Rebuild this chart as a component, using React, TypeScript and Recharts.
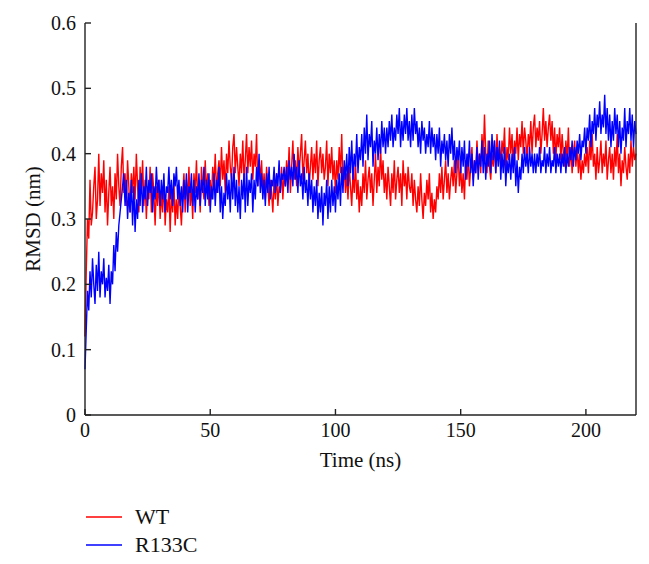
import React from 'react';
import { LineChart, Line, XAxis, YAxis } from 'recharts';

// RMSD (nm), one reading every 0.5 ns
const STEP_NS = 0.5;

const wt = [
  0.12, 0.22, 0.30, 0.27, 0.36, 0.29, 0.31, 0.35, 0.38, 0.30, 0.33, 0.40, 0.32, 0.37, 0.34, 0.39, 0.31, 0.36, 0.29, 0.34,
  0.38, 0.32, 0.35, 0.30, 0.37, 0.33, 0.40, 0.35, 0.32, 0.38, 0.41, 0.34, 0.37, 0.32, 0.39, 0.35, 0.31, 0.37, 0.34, 0.38,
  0.33, 0.40, 0.35, 0.31, 0.38, 0.34, 0.39, 0.32, 0.36, 0.30, 0.35, 0.33, 0.38, 0.31, 0.37, 0.34, 0.29, 0.35, 0.32, 0.36,
  0.30, 0.34, 0.31, 0.36, 0.29, 0.33, 0.31, 0.35, 0.28, 0.34, 0.31, 0.36, 0.29, 0.33, 0.30, 0.35, 0.32, 0.29, 0.34, 0.37,
  0.31, 0.36, 0.33, 0.38, 0.32, 0.35, 0.30, 0.37, 0.34, 0.39, 0.33, 0.36, 0.31, 0.38, 0.35, 0.33, 0.39, 0.34, 0.37, 0.32,
  0.36, 0.33, 0.38, 0.35, 0.40, 0.34, 0.37, 0.39, 0.35, 0.41, 0.36, 0.39, 0.34, 0.40, 0.37, 0.42, 0.38, 0.36, 0.41, 0.43,
  0.37, 0.41, 0.38, 0.35, 0.40, 0.37, 0.42, 0.36, 0.39, 0.43, 0.37, 0.41, 0.38, 0.42, 0.36, 0.40, 0.38, 0.43, 0.35, 0.39,
  0.36, 0.39, 0.34, 0.37, 0.33, 0.38, 0.35, 0.32, 0.36, 0.34, 0.31, 0.36, 0.33, 0.37, 0.32, 0.35, 0.34, 0.38, 0.33, 0.37,
  0.35, 0.39, 0.36, 0.41, 0.34, 0.38, 0.42, 0.36, 0.39, 0.35, 0.41, 0.37, 0.40, 0.43, 0.36, 0.39, 0.42, 0.37, 0.40, 0.35,
  0.38, 0.41, 0.36, 0.40, 0.37, 0.42, 0.35, 0.39, 0.41, 0.37, 0.40, 0.36, 0.38, 0.42, 0.35, 0.40, 0.37, 0.41, 0.36, 0.39,
  0.34, 0.39, 0.36, 0.41, 0.37, 0.43, 0.35, 0.38, 0.34, 0.37, 0.33, 0.38, 0.35, 0.32, 0.37, 0.34, 0.39, 0.33, 0.36, 0.31,
  0.35, 0.32, 0.37, 0.34, 0.39, 0.33, 0.36, 0.38, 0.34, 0.37, 0.32, 0.36, 0.40, 0.34, 0.38, 0.35, 0.41, 0.36, 0.39, 0.34,
  0.37, 0.33, 0.38, 0.35, 0.32, 0.37, 0.34, 0.39, 0.33, 0.36, 0.38, 0.34, 0.37, 0.32, 0.39, 0.35, 0.37, 0.33, 0.38, 0.35,
  0.34, 0.37, 0.32, 0.36, 0.33, 0.31, 0.35, 0.32, 0.37, 0.33, 0.30, 0.34, 0.32, 0.36, 0.33, 0.37, 0.31, 0.34, 0.30, 0.33,
  0.31, 0.35, 0.33, 0.37, 0.34, 0.38, 0.33, 0.36, 0.39, 0.34, 0.37, 0.33, 0.36, 0.38, 0.35, 0.39, 0.34, 0.37, 0.40, 0.35,
  0.38, 0.34, 0.37, 0.33, 0.39, 0.36, 0.40, 0.35, 0.38, 0.41, 0.36, 0.39, 0.37, 0.42, 0.38, 0.40, 0.37, 0.43, 0.39, 0.46,
  0.40, 0.37, 0.42, 0.38, 0.36, 0.40, 0.38, 0.42, 0.37, 0.43, 0.39, 0.41, 0.38, 0.42, 0.40, 0.44, 0.37, 0.41, 0.39, 0.44,
  0.40, 0.43, 0.38, 0.42, 0.40, 0.44, 0.39, 0.43, 0.41, 0.45, 0.40, 0.44, 0.42, 0.39, 0.43, 0.41, 0.45, 0.40, 0.44, 0.46,
  0.41, 0.44, 0.42, 0.45, 0.40, 0.43, 0.47, 0.42, 0.45, 0.41, 0.44, 0.46, 0.42, 0.45, 0.40, 0.44, 0.39, 0.43, 0.41, 0.44,
  0.39, 0.43, 0.40, 0.38, 0.42, 0.39, 0.44, 0.38, 0.41, 0.37, 0.40, 0.42, 0.38, 0.41, 0.37, 0.40, 0.36, 0.39, 0.37, 0.40,
  0.38, 0.41, 0.37, 0.42, 0.39, 0.43, 0.38, 0.40, 0.36, 0.41, 0.37, 0.39, 0.42, 0.37, 0.40, 0.38, 0.42, 0.36, 0.39, 0.41,
  0.37, 0.40, 0.36, 0.41, 0.38, 0.43, 0.37, 0.40, 0.35, 0.39, 0.37, 0.41, 0.38, 0.36, 0.40, 0.37, 0.42, 0.38, 0.41, 0.39,
  0.40,
];

const r133c = [
  0.07, 0.13, 0.19, 0.16, 0.22, 0.18, 0.24, 0.20, 0.17, 0.23, 0.19, 0.25, 0.18, 0.22, 0.20, 0.24, 0.18, 0.21, 0.19, 0.23,
  0.17, 0.22, 0.20, 0.26, 0.22, 0.28, 0.25, 0.29, 0.31, 0.33, 0.35, 0.37, 0.32, 0.36, 0.30, 0.34, 0.31, 0.36, 0.29, 0.35,
  0.28, 0.33, 0.30, 0.36, 0.32, 0.37, 0.31, 0.35, 0.33, 0.38, 0.32, 0.36, 0.34, 0.37, 0.31, 0.35, 0.33, 0.38, 0.34, 0.36,
  0.32, 0.36, 0.33, 0.37, 0.31, 0.35, 0.34, 0.38, 0.33, 0.36, 0.32, 0.37, 0.35, 0.38, 0.33, 0.36, 0.32, 0.35, 0.31, 0.36,
  0.33, 0.37, 0.31, 0.35, 0.34, 0.37, 0.32, 0.36, 0.31, 0.35, 0.33, 0.37, 0.32, 0.36, 0.34, 0.38, 0.32, 0.36, 0.33, 0.37,
  0.31, 0.35, 0.33, 0.37, 0.32, 0.36, 0.34, 0.38, 0.31, 0.35, 0.30, 0.34, 0.32, 0.37, 0.33, 0.36, 0.31, 0.37, 0.33, 0.38,
  0.32, 0.36, 0.31, 0.35, 0.30, 0.36, 0.33, 0.37, 0.31, 0.38, 0.32, 0.36, 0.34, 0.37, 0.31, 0.36, 0.33, 0.38, 0.35, 0.40,
  0.34, 0.37, 0.33, 0.36, 0.32, 0.37, 0.34, 0.38, 0.33, 0.36, 0.35, 0.38, 0.34, 0.37, 0.35, 0.39, 0.34, 0.37, 0.36, 0.38,
  0.35, 0.38, 0.34, 0.39, 0.36, 0.38, 0.35, 0.40, 0.36, 0.38, 0.34, 0.39, 0.35, 0.37, 0.33, 0.38, 0.34, 0.36, 0.32, 0.37,
  0.33, 0.36, 0.31, 0.35, 0.32, 0.36, 0.30, 0.34, 0.31, 0.35, 0.29, 0.34, 0.32, 0.36, 0.30, 0.35, 0.31, 0.36, 0.32, 0.35,
  0.31, 0.36, 0.33, 0.37, 0.32, 0.38, 0.34, 0.39, 0.36, 0.40, 0.35, 0.41, 0.37, 0.42, 0.36, 0.40, 0.38, 0.43, 0.37, 0.41,
  0.39, 0.43, 0.38, 0.44, 0.40, 0.46, 0.39, 0.43, 0.41, 0.45, 0.38, 0.42, 0.40, 0.44, 0.39, 0.43, 0.40, 0.45, 0.41, 0.44,
  0.40, 0.44, 0.41, 0.45, 0.42, 0.46, 0.41, 0.44, 0.42, 0.46, 0.43, 0.47, 0.41, 0.45, 0.42, 0.46, 0.43, 0.47, 0.42, 0.45,
  0.41, 0.46, 0.42, 0.47, 0.43, 0.45, 0.41, 0.44, 0.40, 0.45, 0.42, 0.44, 0.40, 0.43, 0.41, 0.45, 0.40, 0.44, 0.41, 0.43,
  0.39, 0.43, 0.40, 0.44, 0.38, 0.42, 0.40, 0.43, 0.39, 0.42, 0.38, 0.43, 0.40, 0.44, 0.39, 0.42, 0.37, 0.41, 0.39, 0.42,
  0.37, 0.41, 0.38, 0.42, 0.36, 0.40, 0.38, 0.42, 0.37, 0.40, 0.35, 0.39, 0.37, 0.41, 0.36, 0.40, 0.38, 0.42, 0.37, 0.41,
  0.36, 0.40, 0.38, 0.42, 0.37, 0.43, 0.39, 0.42, 0.37, 0.41, 0.38, 0.42, 0.36, 0.40, 0.37, 0.41, 0.35, 0.39, 0.37, 0.40,
  0.36, 0.40, 0.37, 0.41, 0.35, 0.39, 0.34, 0.38, 0.36, 0.40, 0.37, 0.41, 0.38, 0.40, 0.37, 0.41, 0.38, 0.40, 0.37, 0.40,
  0.37, 0.40, 0.38, 0.41, 0.37, 0.39, 0.38, 0.41, 0.37, 0.40, 0.38, 0.41, 0.37, 0.39, 0.38, 0.41, 0.37, 0.40, 0.38, 0.40,
  0.37, 0.40, 0.38, 0.41, 0.37, 0.40, 0.38, 0.41, 0.39, 0.42, 0.38, 0.41, 0.39, 0.42, 0.40, 0.43, 0.39, 0.42, 0.41, 0.44,
  0.40, 0.44, 0.42, 0.46, 0.41, 0.45, 0.43, 0.47, 0.42, 0.46, 0.44, 0.48, 0.43, 0.46, 0.44, 0.49, 0.43, 0.47, 0.42, 0.46,
  0.41, 0.45, 0.42, 0.47, 0.43, 0.46, 0.41, 0.45, 0.40, 0.44, 0.42, 0.47, 0.41, 0.45, 0.43, 0.47, 0.42, 0.46, 0.41, 0.45,
  0.43,
];

const xTicks = [0, 50, 100, 150, 200];
const yTicks = [0, 0.1, 0.2, 0.3, 0.4, 0.5, 0.6];
const series = [
  { key: 'wt', name: 'WT', color: '#ff0000' },
  { key: 'r133c', name: 'R133C', color: '#0000ff' },
];

const FONT = '"Liberation Serif", "Times New Roman", serif';
const AXIS = '#222';

export default function App() {
  const data = wt.map((v, i) => ({ t: i * STEP_NS, wt: v, r133c: r133c[i] }));

  return (
    <div style={{ position: 'relative', width: 641, height: 556, fontFamily: FONT, background: '#fff' }}>
      <LineChart width={641} height={556} data={data} margin={{ top: 15, right: 12, left: 17, bottom: 119 }}>
        <XAxis
          xAxisId="b" dataKey="t" type="number" domain={[0, 220]} ticks={xTicks}
          height={30} tickSize={-6} tickMargin={14} stroke={AXIS} strokeWidth={1.4}
          tick={{ fill: '#111', fontSize: 20, fontFamily: FONT }}
          label={{ value: 'Time (ns)', position: 'bottom', offset: 7, fill: '#111', fontSize: 21, fontFamily: FONT }}
        />
        <XAxis
          xAxisId="t" dataKey="t" type="number" domain={[0, 220]} ticks={xTicks.slice(1)}
          orientation="top" height={0} tickSize={-6} tick={false} stroke={AXIS} strokeWidth={1.4}
        />
        <YAxis
          yAxisId="l" type="number" domain={[0, 0.6]} ticks={yTicks} width={60}
          tickSize={-6} tickMargin={15} stroke={AXIS} strokeWidth={1.4}
          tick={{ fill: '#111', fontSize: 20, fontFamily: FONT }}
          label={{ value: 'RMSD (nm)', angle: -90, position: 'center', dx: -22, fill: '#111', fontSize: 21, fontFamily: FONT }}
        />
        <YAxis
          yAxisId="r" type="number" domain={[0, 0.6]} ticks={yTicks} orientation="right" width={1}
          tickSize={-6} tick={false} stroke={AXIS} strokeWidth={1.4}
        />
        {series.map(s => (
          <Line
            key={s.key} xAxisId="b" yAxisId="l" type="linear" dataKey={s.key} name={s.name}
            stroke={s.color} strokeWidth={1.4} dot={false} isAnimationActive={false}
          />
        ))}
      </LineChart>
      <svg width={641} height={556} style={{ position: 'absolute', left: 0, top: 0, pointerEvents: 'none' }}>
        {series.map((s, i) => (
          <g key={s.key}>
            <line x1={78} x2={114} y1={509 + i * 28} y2={509 + i * 28} stroke={s.color} strokeWidth={1.6} />
            <text x={127} y={516 + i * 28} fontSize={22} fontFamily={FONT} fill="#111">{s.name}</text>
          </g>
        ))}
      </svg>
    </div>
  );
}
